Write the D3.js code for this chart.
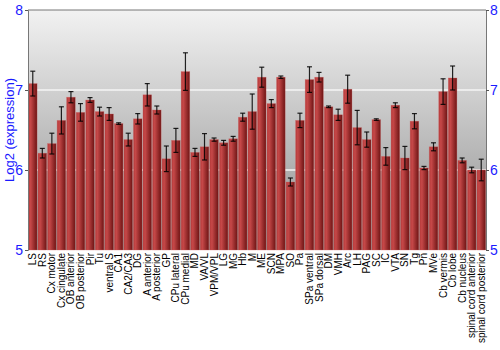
<!DOCTYPE html>
<html>
<head>
<meta charset="utf-8">
<script src="https://cdn.jsdelivr.net/npm/d3@7"></script>
<style>
body { margin: 0; background: #fff; }
</style>
</head>
<body>
<div id="chart"></div>
<script>
var regions = ["LS", "RS", "Cx motor", "Cx cingulate", "OB anterior", "OB posterior", "Pir", "Tu",
  "ventral S", "CA1", "CA2/CA3", "DG", "A anterior", "A posterior", "GP", "CPu lateral", "CPu medial",
  "MD", "VA/VL", "VPM/VPL", "LG", "MG", "Hb", "M", "ME", "SCN", "MPA", "SO", "Pa", "SPa ventral",
  "SPa dorsal", "DM", "VMH", "Arc", "LH", "PAG", "SC", "IC", "VTA", "SN", "Tg", "Pn", "MVe",
  "Cb vermis", "Cb lobe", "Cb nucleus", "spinal cord anterior", "spinal cord posterior"];
var means = [7.08, 6.21, 6.33, 6.62, 6.91, 6.72, 6.875, 6.73,
  6.70, 6.58, 6.38, 6.64, 6.94, 6.75, 6.14, 6.37, 7.23,
  6.22, 6.29, 6.38, 6.34, 6.39, 6.66, 6.73, 7.16, 6.83, 7.16, 5.85, 6.62, 7.13,
  7.16, 6.79, 6.69, 7.01, 6.53, 6.38, 6.63, 6.17, 6.81, 6.15, 6.61, 6.025, 6.29,
  6.98, 7.15, 6.12, 6.0, 6.0];
var errs = [0.155, 0.06, 0.13, 0.17, 0.07, 0.11, 0.03, 0.055,
  0.08, 0.01, 0.08, 0.065, 0.14, 0.05, 0.16, 0.15, 0.235,
  0.05, 0.165, 0.02, 0.03, 0.03, 0.05, 0.22, 0.125, 0.05, 0.015, 0.05, 0.09, 0.16,
  0.06, 0.01, 0.07, 0.175, 0.215, 0.095, 0.01, 0.11, 0.03, 0.145, 0.095, 0.02, 0.05,
  0.16, 0.15, 0.03, 0.035, 0.135];
var yTicks = [5, 6, 7, 8];

var W = 500, H = 350;
var mLeft = 28, mRight = 486, mTop = 10, mBottom = 250;

var svg = d3.select("#chart").append("svg")
  .attr("width", W).attr("height", H);

var defs = svg.append("defs");
var bg = defs.append("linearGradient").attr("id", "bg")
  .attr("x1", 0).attr("y1", 0).attr("x2", 0).attr("y2", 1);
bg.append("stop").attr("offset", "0%").attr("stop-color", "#f2f2f2");
bg.append("stop").attr("offset", "100%").attr("stop-color", "#8e8e8e");

var barGrad = defs.append("linearGradient").attr("id", "bar")
  .attr("x1", 0).attr("y1", 0).attr("x2", 1).attr("y2", 0);
barGrad.append("stop").attr("offset", "0%").attr("stop-color", "#b53a3a");
barGrad.append("stop").attr("offset", "25%").attr("stop-color", "#c64848");
barGrad.append("stop").attr("offset", "100%").attr("stop-color", "#6e1414");

var x = d3.scaleBand().domain(regions).range([mLeft, mRight]).paddingInner(0.1).paddingOuter(0.05);
var y = d3.scaleLinear().domain([5, 8]).range([mBottom, mTop]);

// plot background
svg.append("rect")
  .attr("x", mLeft).attr("y", mTop)
  .attr("width", mRight - mLeft).attr("height", mBottom - mTop)
  .attr("fill", "url(#bg)");

// grid lines
svg.append("g").selectAll("line")
  .data([6, 7])
  .enter().append("line")
  .attr("x1", mLeft).attr("x2", mRight)
  .attr("y1", function(d) { return y(d); })
  .attr("y2", function(d) { return y(d); })
  .attr("stroke", "#f4f4f4")
  .attr("stroke-width", 1.5);

// bars
svg.append("g").selectAll("rect")
  .data(regions)
  .enter().append("rect")
  .attr("x", function(d) { return x(d); })
  .attr("width", x.bandwidth())
  .attr("y", function(d, i) { return y(means[i]); })
  .attr("height", function(d, i) { return y(5) - y(means[i]); })
  .attr("fill", "url(#bar)")
  .attr("stroke", "#d06060")
  .attr("stroke-opacity", 0.5)
  .attr("stroke-width", 0.6);

// error bars
var eb = svg.append("g").attr("stroke", "#000").attr("stroke-opacity", 0.85).attr("stroke-width", 1.2);
regions.forEach(function(r, i) {
  var cx = x(r) + x.bandwidth() / 2;
  var y1 = y(means[i] + errs[i]), y2 = y(means[i] - errs[i]);
  eb.append("line").attr("x1", cx).attr("x2", cx).attr("y1", y1).attr("y2", y2);
  eb.append("line").attr("x1", cx - 2.5).attr("x2", cx + 2.5).attr("y1", y1).attr("y2", y1);
  eb.append("line").attr("x1", cx - 2.5).attr("x2", cx + 2.5).attr("y1", y2).attr("y2", y2);
});

// frame line on top
svg.append("line").attr("x1", mLeft).attr("x2", mRight).attr("y1", mTop).attr("y2", mTop)
  .attr("stroke", "#777").attr("stroke-width", 1);

// axes
var yl = svg.append("g").attr("transform", "translate(" + mLeft + ",0)")
  .call(d3.axisLeft(y).tickValues(yTicks).tickSize(3).tickPadding(2).tickFormat(d3.format("d")));
var yr = svg.append("g").attr("transform", "translate(" + mRight + ",0)")
  .call(d3.axisRight(y).tickValues(yTicks).tickSize(3).tickPadding(1).tickFormat(d3.format("d")));
[yl, yr].forEach(function(g) {
  g.select(".domain").attr("stroke", "#777");
  g.selectAll(".tick line").attr("stroke", "#555");
  g.selectAll(".tick text")
    .attr("fill", "#1a1aff")
    .style("font-family", "Liberation Sans, Arial, sans-serif")
    .style("font-size", "14px");
});

// x labels
var xa = svg.append("g").attr("transform", "translate(0," + mBottom + ")")
  .call(d3.axisBottom(x).tickSize(0).tickPadding(0));
xa.select(".domain").remove();
xa.selectAll(".tick text")
  .attr("transform", "rotate(-90)")
  .attr("x", -3)
  .attr("y", 0)
  .attr("dy", "0.35em")
  .attr("text-anchor", "end")
  .attr("fill", "#000")
  .style("font-family", "Liberation Sans, Arial, sans-serif")
  .style("font-size", "10px");

// y title
svg.append("text")
  .attr("transform", "translate(14," + ((mTop + mBottom) / 2) + ") rotate(-90)")
  .attr("text-anchor", "middle")
  .attr("fill", "#1a1aff")
  .style("font-family", "Liberation Sans, Arial, sans-serif")
  .style("font-size", "13px")
  .text("Log2 (expression)");
</script>
</body>
</html>
